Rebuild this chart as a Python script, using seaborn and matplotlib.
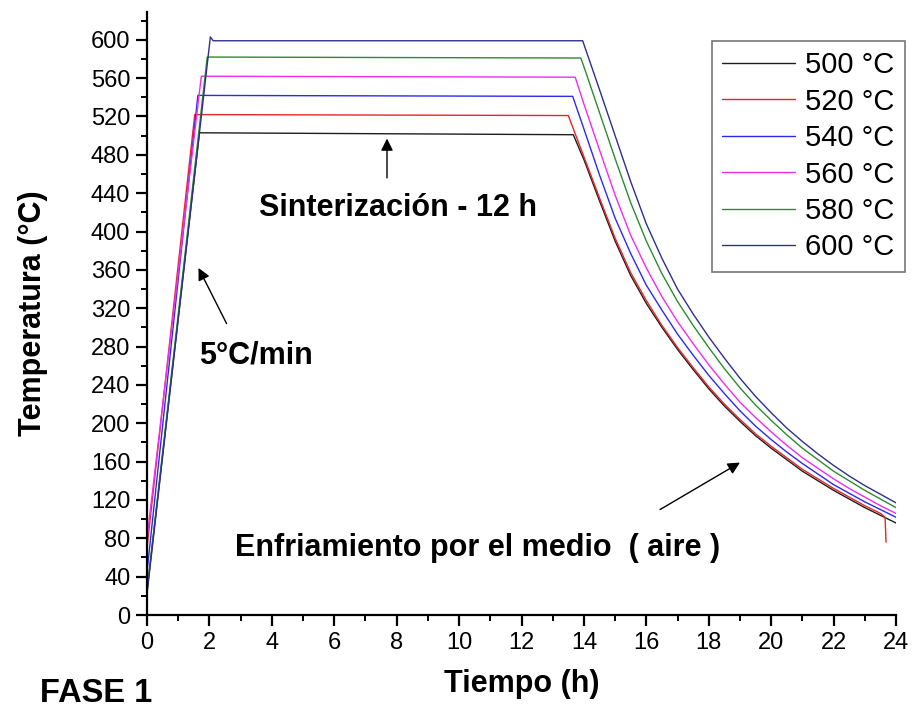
import numpy as np
import pandas as pd
import matplotlib
matplotlib.use("Agg")
import matplotlib.pyplot as plt
import seaborn as sns
from matplotlib.ticker import MultipleLocator

sns.set_theme(style="ticks")
plt.rcParams['font.family'] = ['Liberation Sans', 'DejaVu Sans']
plt.rcParams['text.color'] = 'black'
plt.rcParams['axes.labelcolor'] = 'black'
plt.rcParams['xtick.color'] = 'black'
plt.rcParams['ytick.color'] = 'black'

# ---------------- data ----------------
labels = ["500 °C", "520 °C", "540 °C", "560 °C", "580 °C", "600 °C"]
colors = ["#1e1e1e", "#e8262a", "#2b2bf0", "#f02cf0", "#2e8b2e", "#2f2f8f"]

half_hours_14 = [14.0, 14.5, 15.0, 15.5, 16.0, 16.5, 17.0, 17.5, 18.0, 18.5, 19.0,
                 19.5, 20.0, 20.5, 21.0, 21.5, 22.0, 22.5, 23.0, 23.5, 24.0]

t_500 = [0.0, 1.68, 13.66] + half_hours_14
T_500 = [25, 503, 501, 475, 432, 390, 354, 325, 300, 277, 256, 236, 218, 202, 187,
         174, 162, 150, 140, 130, 121, 112, 104, 96]

t_520 = [0.0, 1.53, 13.5] + half_hours_14[:-1] + [23.65, 23.68]
T_520 = [70, 522, 521, 478, 435, 393, 357, 328, 302, 279, 258, 238, 220, 204, 189,
         176, 164, 152, 142, 132, 123, 114, 106, 102, 76]

t_540 = [0.0, 1.63, 13.64] + half_hours_14
T_540 = [45, 542, 541, 507, 459, 414, 377, 344, 318, 293, 271, 250, 231, 213, 197,
         183, 170, 158, 147, 136, 127, 118, 110, 102]

t_560 = [0.0, 1.74, 13.72] + half_hours_14
T_560 = [80, 562, 561, 533, 485, 438, 396, 362, 332, 306, 283, 261, 241, 222, 206,
         191, 177, 164, 153, 142, 132, 123, 114, 106]

t_580 = [0.0, 1.93, 13.9] + half_hours_14
T_580 = [25, 582, 581, 572, 524, 476, 430, 390, 356, 327, 302, 279, 257, 237, 219,
         203, 188, 174, 162, 150, 140, 130, 121, 112]

t_600 = [0.0, 2.03, 2.12, 13.96] + half_hours_14[1:]
T_600 = [22, 603, 599, 599, 548, 500, 452, 408, 372, 340, 314, 290, 268, 247, 228,
         211, 195, 181, 168, 156, 145, 135, 126, 117]

series_t = [t_500, t_520, t_540, t_560, t_580, t_600]
series_T = [T_500, T_520, T_540, T_560, T_580, T_600]

frames = []
for lab, tt, TT in zip(labels, series_t, series_T):
    frames.append(pd.DataFrame({"Tiempo": tt, "Temp": TT, "Serie": lab}))
df = pd.concat(frames, ignore_index=True)

# ---------------- figure ----------------
fig = plt.figure(figsize=(9.13, 7.11), dpi=100)
ax = fig.add_axes([147 / 913, 96 / 711, 749 / 913, 603 / 711])

sns.lineplot(data=df, x="Tiempo", y="Temp", hue="Serie", hue_order=labels,
             palette=colors, sort=False, estimator=None, units="Serie",
             linewidth=1.0, ax=ax, legend=False)

ax.set_xlim(0, 24)
ax.set_ylim(0, 629)
ax.xaxis.set_major_locator(MultipleLocator(2))
ax.xaxis.set_minor_locator(MultipleLocator(1))
ax.yaxis.set_major_locator(MultipleLocator(40))
ax.yaxis.set_minor_locator(MultipleLocator(20))
ax.set_yticks(np.arange(0, 601, 40))

for side in ["top", "right"]:
    ax.spines[side].set_visible(False)
for side in ["left", "bottom"]:
    ax.spines[side].set_linewidth(1.6)
    ax.spines[side].set_color("black")

ax.tick_params(axis="both", which="major", direction="out", length=8, width=1.6,
               labelsize=17, colors="black", pad=4)
ax.tick_params(axis="both", which="minor", direction="out", length=4.5, width=1.4,
               colors="black")

ax.set_xlabel("Tiempo (h)", fontsize=22, fontweight="bold", labelpad=11)
ax.set_ylabel("Temperatura (°C)", fontsize=22, fontweight="bold", labelpad=31)

# legend
handles = [plt.Line2D([0], [0], color=c, lw=1.0) for c in colors]
leg = fig.legend(handles, labels, loc="upper right",
                 bbox_to_anchor=(905 / 913, 1 - 41 / 711), fontsize=21,
                 frameon=True, fancybox=False, handlelength=2.5,
                 labelspacing=0.29, borderpad=0.35, handletextpad=0.35,
                 borderaxespad=0.0)
leg.get_frame().set_edgecolor("#555555")
leg.get_frame().set_linewidth(1.2)

# annotations
arrow_kw = dict(arrowstyle="-|>", color="black", lw=1.0, mutation_scale=18,
                shrinkA=0, shrinkB=0)
ax.annotate("", xy=(7.69, 497), xytext=(7.69, 456), arrowprops=arrow_kw)
ax.text(8.03, 425, "Sinterización - 12 h", fontsize=22, fontweight="bold",
        ha="center", va="center")

ax.annotate("", xy=(1.65, 362), xytext=(2.55, 304), arrowprops=arrow_kw)
ax.text(3.48, 271, "5°C/min", fontsize=22, fontweight="bold",
        ha="center", va="center")

ax.annotate("", xy=(19.0, 159), xytext=(16.44, 110), arrowprops=arrow_kw)
ax.text(10.59, 70, "Enfriamiento por el medio  ( aire )", fontsize=22,
        fontweight="bold", ha="center", va="center")

fig.text(40 / 913, 1 - 693 / 711, "FASE 1", fontsize=23.5, fontweight="bold",
         ha="left", va="center")

fig.savefig("out.png", dpi=100)
